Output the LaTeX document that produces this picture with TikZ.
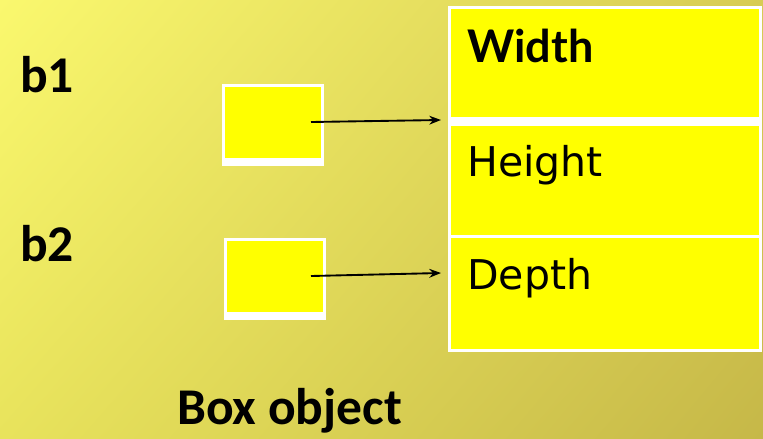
\documentclass[tikz,border=0pt]{standalone}
\usepackage{fontspec}
\setmainfont{Carlito}
\newfontfamily\cellfont{DejaVu Sans}
\newfontfamily\cellboldfont{Lato}
\usepackage{tikz}
\usetikzlibrary{arrows.meta,positioning,shadings}

\definecolor{bgTL}{RGB}{250,248,110}
\definecolor{bgTR}{RGB}{215,204,84}
\definecolor{bgBL}{RGB}{232,227,92}
\definecolor{bgBR}{RGB}{198,184,72}
\definecolor{cellyellow}{RGB}{255,255,0}

\begin{document}
\begin{tikzpicture}[x=0.03cm, y=-0.03cm,
    frame/.style={rectangle, fill=white, inner sep=0pt, anchor=north west},
    cell/.style={rectangle, fill=cellyellow, inner sep=0pt, anchor=north west},
    tag/.style={anchor=base west, inner sep=0pt, font=\fontsize{44}{52}\selectfont\bfseries},
    celltext/.style={anchor=base west, inner sep=0pt, font=\cellfont\fontsize{35}{42}\selectfont},
    pointer/.style={-{Stealth[length=10pt,width=7.5pt]}, line width=1.6pt, black}
]
    % Background
    \useasboundingbox (0,0) rectangle (763,438);
    \shade[upper left=bgTL, upper right=bgTR, lower left=bgBL, lower right=bgBR] (0,0) rectangle (763,438);

    % Reference variables
    \node[tag] (b1) at (20,92) {b1};
    \node[tag] (b2) at (20,261) {b2};
    \node[frame, minimum width={102*0.03cm}, minimum height={82*0.03cm}] (ref1) at (222,84) {};
    \node[cell, minimum width={96*0.03cm}, minimum height={71*0.03cm}] (ref1in) at (225,87) {};
    \node[frame, minimum width={102*0.03cm}, minimum height={82*0.03cm}] (ref2) at (224,238) {};
    \node[cell, minimum width={96*0.03cm}, minimum height={71*0.03cm}] (ref2in) at (227,241) {};

    % Object
    \node[frame, minimum width={314*0.03cm}, minimum height={346*0.03cm}] (obj) at (448,6) {};
    \node[cell, minimum width={308*0.03cm}, minimum height={108*0.03cm}] (wcell) at (451,9) {};
    \node[cell, minimum width={308*0.03cm}, minimum height={109*0.03cm}] (hcell) at (451,126) {};
    \node[cell, minimum width={308*0.03cm}, minimum height={111*0.03cm}] (dcell) at (451,237.5) {};
    \node[anchor=base west, inner sep=0pt, font=\cellboldfont\bfseries\fontsize{38.4}{46}\selectfont] (wtext) at (467,62) {Width};
    \node[celltext] (htext) at (467,176) {Height};
    \node[celltext] (dtext) at (467,289) {Depth};

    \node[tag] (caption) at (177,424) {Box object};

    % Pointers
    \coordinate (p1) at (311,122);
    \coordinate (q1) at (441,120);
    \coordinate (p2) at (311,276);
    \coordinate (q2) at (441,273);
    \draw[pointer] (p1) -- (q1);
    \draw[pointer] (p2) -- (q2);
\end{tikzpicture}
\end{document}
